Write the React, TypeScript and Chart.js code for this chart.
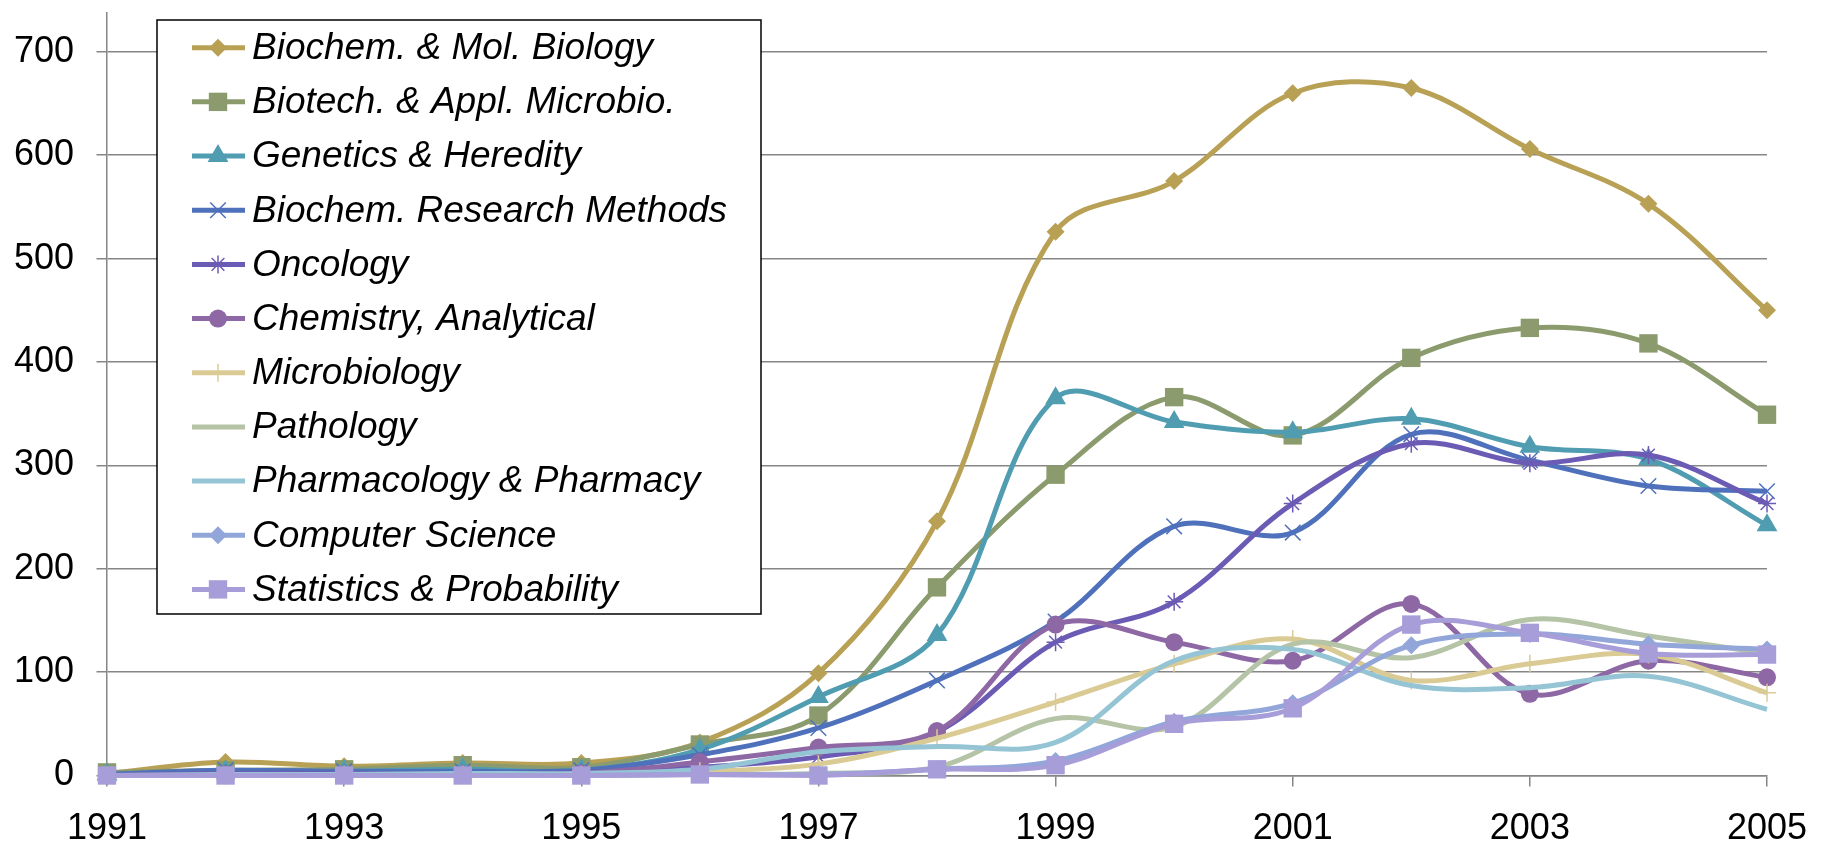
import React, { useEffect, useRef } from 'react';
import { Chart, registerables } from 'chart.js';

Chart.register(...registerables);

const years = [1991, 1992, 1993, 1994, 1995, 1996, 1997, 1998, 1999, 2000, 2001, 2002, 2003, 2004, 2005];
const xTickLabels = [1991, 1993, 1995, 1997, 1999, 2001, 2003, 2005];
const yTickValues = [0, 100, 200, 300, 400, 500, 600, 700];

const seriesNames = [
  'Biochem. & Mol. Biology',
  'Biotech. & Appl. Microbio.',
  'Genetics & Heredity',
  'Biochem. Research Methods',
  'Oncology',
  'Chemistry, Analytical',
  'Microbiology',
  'Pathology',
  'Pharmacology & Pharmacy',
  'Computer Science',
  'Statistics & Probability',
];

const biochemMolBiology = [2, 13, 9, 12, 12, 32, 99, 246, 526, 575, 660, 665, 606, 553, 450];
const biotechApplMicrobio = [3, 5, 6, 10, 8, 30, 58, 182, 291, 366, 329, 404, 433, 418, 349];
const geneticsHeredity = [1, 4, 4, 6, 5, 25, 76, 136, 365, 342, 332, 345, 318, 306, 242];
const biochemResearchMethods = [1, 5, 4, 4, 5, 20, 46, 92, 149, 241, 235, 330, 305, 280, 275];
const oncology = [0, 2, 2, 2, 3, 8, 18, 42, 129, 168, 263, 321, 302, 310, 263];
const chemistryAnalytical = [0, 1, 1, 1, 2, 13, 27, 43, 146, 129, 111, 166, 79, 111, 95];
const microbiology = [0, 0, 1, 1, 1, 4, 11, 36, 71, 108, 132, 92, 108, 117, 80];
const pathology = [0, 0, 0, 0, 0, 1, 2, 8, 55, 47, 127, 114, 151, 135, 118];
const pharmacology = [0, 1, 1, 2, 2, 6, 23, 28, 32, 111, 122, 87, 85, 96, 64];
const computerScience = [0, 0, 0, 0, 0, 1, 1, 6, 14, 52, 70, 126, 137, 127, 122];
const statisticsProbability = [0, 0, 0, 0, 0, 1, 0, 6, 10, 50, 65, 146, 138, 118, 117];

const seriesValues = [
  biochemMolBiology,
  biotechApplMicrobio,
  geneticsHeredity,
  biochemResearchMethods,
  oncology,
  chemistryAnalytical,
  microbiology,
  pathology,
  pharmacology,
  computerScience,
  statisticsProbability,
];

const seriesColors = [
  '#B8A155',
  '#8B9B6D',
  '#509CB1',
  '#4F71BC',
  '#6C5BB4',
  '#8E67A5',
  '#DACB94',
  '#B5C3A6',
  '#95C5D5',
  '#92A6DA',
  '#A79DD8',
];

const seriesMarkers: (string | null)[] = [
  'rectRot', 'rect', 'triangle', 'crossRot', 'star', 'circle', 'cross', null, null, 'rectRot', 'rect',
];

const markerRadius: Record<string, number> = {
  rectRot: 9, rect: 13, triangle: 12, crossRot: 11, star: 9, circle: 9, cross: 9,
};
const strokeMarkers = ['crossRot', 'star', 'cross'];

const FONT = '"Liberation Sans", Arial, sans-serif';

function drawMarker(ctx: CanvasRenderingContext2D, style: string, x: number, y: number, r: number, color: string) {
  ctx.save();
  ctx.fillStyle = color;
  ctx.strokeStyle = color;
  ctx.lineWidth = 1.5;
  ctx.beginPath();
  if (style === 'rectRot') {
    ctx.moveTo(x - r, y); ctx.lineTo(x, y - r); ctx.lineTo(x + r, y); ctx.lineTo(x, y + r); ctx.closePath(); ctx.fill();
  } else if (style === 'rect') {
    const s = Math.SQRT1_2 * r; ctx.rect(x - s, y - s, 2 * s, 2 * s); ctx.fill();
  } else if (style === 'triangle') {
    for (let k = 0; k < 3; k++) {
      const a = k * 2 * Math.PI / 3;
      const px = x + Math.sin(a) * r, py = y - Math.cos(a) * r;
      if (k === 0) ctx.moveTo(px, py); else ctx.lineTo(px, py);
    }
    ctx.closePath(); ctx.fill();
  } else if (style === 'circle') {
    ctx.arc(x, y, r, 0, Math.PI * 2); ctx.fill();
  } else {
    const lines: number[] = [];
    if (style === 'cross' || style === 'star') lines.push(0, Math.PI / 2);
    if (style === 'crossRot' || style === 'star') lines.push(Math.PI / 4, 3 * Math.PI / 4);
    lines.forEach((a) => {
      ctx.moveTo(x - Math.cos(a) * r, y - Math.sin(a) * r);
      ctx.lineTo(x + Math.cos(a) * r, y + Math.sin(a) * r);
    });
    ctx.stroke();
  }
  ctx.restore();
}

const insideLegend = {
  id: 'insideLegend',
  afterDraw(chart: any) {
    const ctx: CanvasRenderingContext2D = chart.ctx;
    const bx = 157, by = 20, bw = 604, bh = 594;
    ctx.save();
    ctx.fillStyle = '#ffffff';
    ctx.fillRect(bx, by, bw, bh);
    ctx.strokeStyle = '#000000';
    ctx.lineWidth = 1.5;
    ctx.strokeRect(bx, by, bw, bh);
    const rowH = 54.17;
    chart.data.datasets.forEach((ds: any, i: number) => {
      const cy = by + 27.7 + i * rowH;
      ctx.strokeStyle = seriesColors[i];
      ctx.lineWidth = 5;
      ctx.lineCap = 'butt';
      ctx.beginPath();
      ctx.moveTo(bx + 35, cy);
      ctx.lineTo(bx + 88, cy);
      ctx.stroke();
      const m = seriesMarkers[i];
      if (m) drawMarker(ctx, m, bx + 61, cy, markerRadius[m], seriesColors[i]);
      ctx.fillStyle = '#000000';
      ctx.font = `italic 37px ${FONT}`;
      ctx.textBaseline = 'middle';
      ctx.textAlign = 'left';
      ctx.fillText(ds.label, bx + 95, cy + 1);
    });
    ctx.restore();
  },
};

export default function App() {
  const canvasRef = useRef<HTMLCanvasElement>(null);

  useEffect(() => {
    const canvas = canvasRef.current;
    if (!canvas) return;
    const datasets = seriesNames.map((name, i) => {
      const m = seriesMarkers[i];
      const isStroke = m ? strokeMarkers.includes(m) : false;
      return {
        label: name,
        data: years.map((yr, j) => ({ x: yr, y: seriesValues[i][j] })),
        borderColor: seriesColors[i],
        backgroundColor: seriesColors[i],
        borderWidth: 5,
        tension: 0.35,
        fill: false,
        order: seriesNames.length - i,
        pointStyle: m || 'circle',
        pointRadius: m ? markerRadius[m] : 0,
        pointHoverRadius: m ? markerRadius[m] : 0,
        pointBackgroundColor: seriesColors[i],
        pointBorderColor: seriesColors[i],
        pointBorderWidth: isStroke ? 1.5 : 0,
        clip: false,
      };
    });

    const chart = new Chart(canvas, {
      type: 'line',
      data: { datasets },
      options: {
        responsive: false,
        animation: false,
        events: [],
        layout: { padding: { top: 9, right: 56, left: 0, bottom: 0 } },
        plugins: {
          legend: { display: false },
          tooltip: { enabled: false },
        },
        scales: {
          x: {
            type: 'linear',
            min: 1991,
            max: 2005,
            afterBuildTicks: (scale: any) => {
              scale.ticks = xTickLabels.map((v) => ({ value: v }));
            },
            afterFit: (scale: any) => {
              scale.height = 71.5;
              scale.paddingLeft = 0;
              scale.paddingRight = 0;
            },
            ticks: {
              autoSkip: false,
              maxRotation: 0,
              color: '#000000',
              font: { family: FONT, size: 36, lineHeight: 1 },
              padding: 25,
              callback: (v: any) => String(v),
            },
            grid: {
              drawOnChartArea: false,
              drawTicks: true,
              tickLength: 11,
              color: '#868686',
              lineWidth: 1.5,
            },
            border: { display: true, color: '#868686', width: 1.5 },
          },
          y: {
            type: 'linear',
            min: 0,
            max: 737.6,
            afterBuildTicks: (scale: any) => {
              scale.ticks = yTickValues.map((v) => ({ value: v }));
            },
            afterFit: (scale: any) => {
              scale.width = 107;
              scale.paddingTop = 0;
              scale.paddingBottom = 0;
            },
            ticks: {
              color: '#000000',
              font: { family: FONT, size: 36 },
              padding: 22.5,
              callback: (v: any) => String(v),
            },
            grid: {
              color: '#868686',
              lineWidth: 1.5,
              drawTicks: true,
              tickLength: 10.5,
            },
            border: { display: true, color: '#868686', width: 1.5 },
          },
        },
      },
      plugins: [insideLegend],
    } as any);

    return () => {
      chart.destroy();
    };
  }, []);

  return (
    <div style={{ position: 'absolute', left: 0, top: 0, width: 1823, height: 847, background: '#ffffff' }}>
      <canvas ref={canvasRef} width={1823} height={847} style={{ display: 'block', width: 1823, height: 847 }} />
    </div>
  );
}
